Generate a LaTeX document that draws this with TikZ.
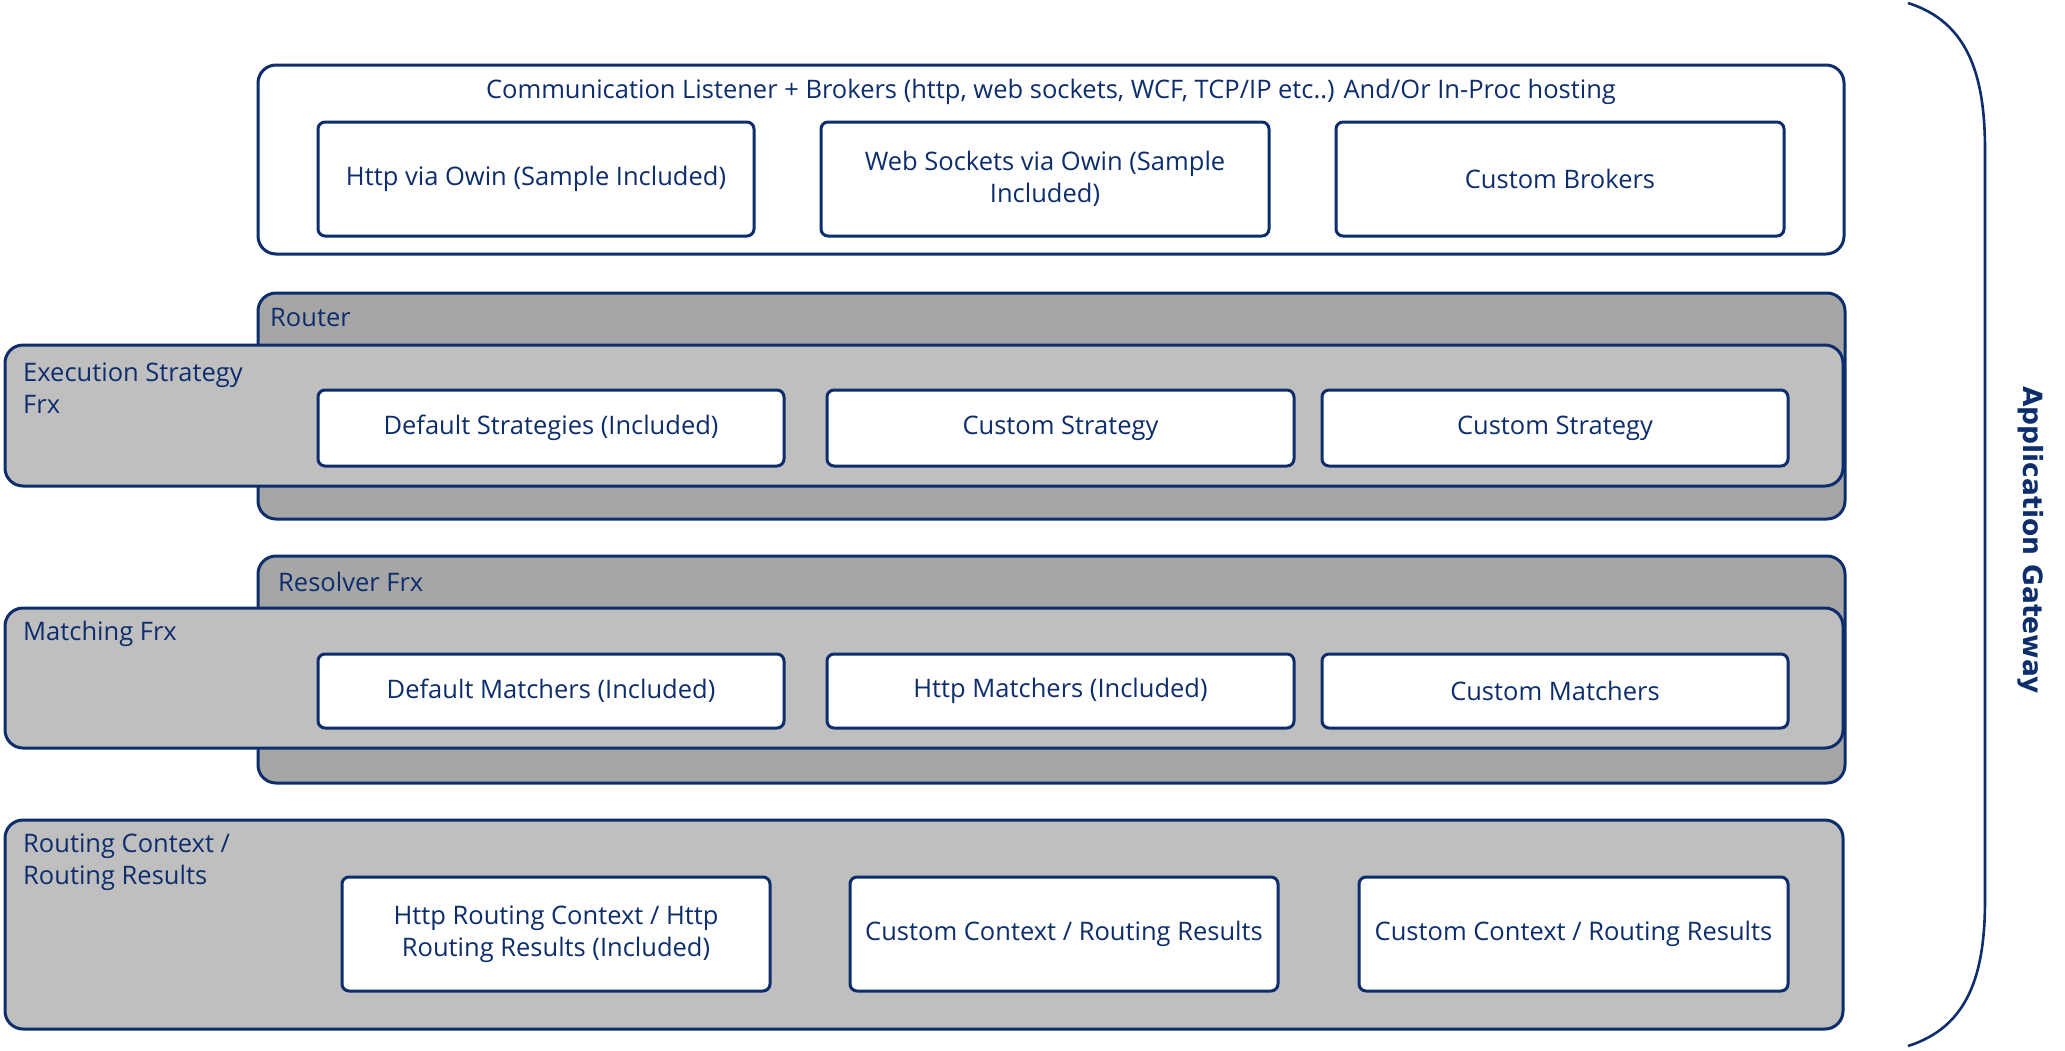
\documentclass[tikz,border=0pt]{standalone}
\usepackage{fontspec}
\setmainfont{Open Sans}
\newfontfamily\gwfont{DejaVu Sans}
\definecolor{navy}{HTML}{0D2D6C}
\definecolor{darkg}{HTML}{A6A6A6}
\definecolor{lightg}{HTML}{BFBFBF}
\tikzset{
  cont/.style={draw=navy, line width=3pt, rounded corners=18pt, inner sep=0pt},
  darkcont/.style={cont, fill=darkg},
  lightcont/.style={cont, fill=lightg},
  whitecont/.style={cont, fill=white},
  sub/.style={draw=navy, fill=white, line width=3pt, rounded corners=7pt, inner sep=0pt,
    text=navy, align=center, font=\fontsize{25.5}{32}\selectfont},
  lbl/.style={text=navy, inner sep=0pt, align=left, font=\fontsize{25.5}{32}\selectfont},
}
\begin{document}
\begin{tikzpicture}[x=1pt,y=-1pt]
\useasboundingbox (0,0) rectangle (2065,1050);
% top container
\node[whitecont, minimum width=1586pt, minimum height=189pt] (top) at (1051,159.5) {};
\node[lbl, anchor=center] (toplbl) at (1051,92) {Communication Listener + Brokers (http, web sockets, WCF, TCP/IP etc..) And/Or In-Proc hosting};
\node[sub, minimum width=436pt, minimum height=114pt] (b1) at (536,179) {Http via Owin (Sample Included)};
\node[sub, minimum width=448pt, minimum height=114pt] (b2) at (1045,179) {Web Sockets via Owin (Sample\\Included)};
\node[sub, minimum width=448pt, minimum height=114pt] (b3) at (1560,179) {Custom Brokers};
% router
\node[darkcont, minimum width=1587pt, minimum height=226pt] (router) at (1051.5,406) {};
\node[lbl, anchor=west] (routerlbl) at (270,318) {Router};
\node[lightcont, minimum width=1838pt, minimum height=141pt] (exec) at (924,415.5) {};
\node[lbl, anchor=west] (execlbl) at (23,388) {Execution Strategy\\Frx};
\node[sub, minimum width=466pt, minimum height=76pt] (s1) at (551,428) {Default Strategies (Included)};
\node[sub, minimum width=467pt, minimum height=76pt] (s2) at (1060.5,428) {Custom Strategy};
\node[sub, minimum width=466pt, minimum height=76pt] (s3) at (1555,428) {Custom Strategy};
% resolver
\node[darkcont, minimum width=1587pt, minimum height=227pt] (resolver) at (1051.5,669.5) {};
\node[lbl, anchor=west] (resolverlbl) at (278,582) {Resolver Frx};
\node[lightcont, minimum width=1838pt, minimum height=140pt] (match) at (924,678) {};
\node[lbl, anchor=west] (matchlbl) at (23,634) {Matching Frx};
\node[sub, minimum width=466pt, minimum height=74pt] (m1) at (551,691) {Default Matchers (Included)};
\node[sub, minimum width=467pt, minimum height=74pt] (m2) at (1060.5,691) {Http Matchers (Included)};
\node[sub, minimum width=466pt, minimum height=74pt] (m3) at (1555,691) {Custom Matchers};
% routing context
\node[lightcont, minimum width=1838pt, minimum height=209pt] (routing) at (924,924.5) {};
\node[lbl, anchor=west] (routinglbl) at (23,862.5) {Routing Context /\\Routing Results};
\node[sub, minimum width=428pt, minimum height=114pt] (r1) at (556,934) {Http Routing Context / Http\\Routing Results (Included)};
\node[sub, minimum width=428pt, minimum height=114pt] (r2) at (1064,934) {Custom Context / Routing Results};
\node[sub, minimum width=429pt, minimum height=114pt] (r3) at (1573.5,934) {Custom Context / Routing Results};
% bracket
\coordinate (bt) at (1908,3);
\coordinate (bb) at (1908,1046);
\draw[navy, line width=2.6pt] (bt) .. controls (1968,22) and (1985,75) .. (1985,150)
  -- (1985,900) .. controls (1985,975) and (1968,1027) .. (bb);
\node[rotate=-90, text=navy, inner sep=0pt, font=\gwfont\bfseries\fontsize{26.5}{30}\selectfont] (ag) at (2031,540) {Application Gateway};
\end{tikzpicture}
\end{document}
